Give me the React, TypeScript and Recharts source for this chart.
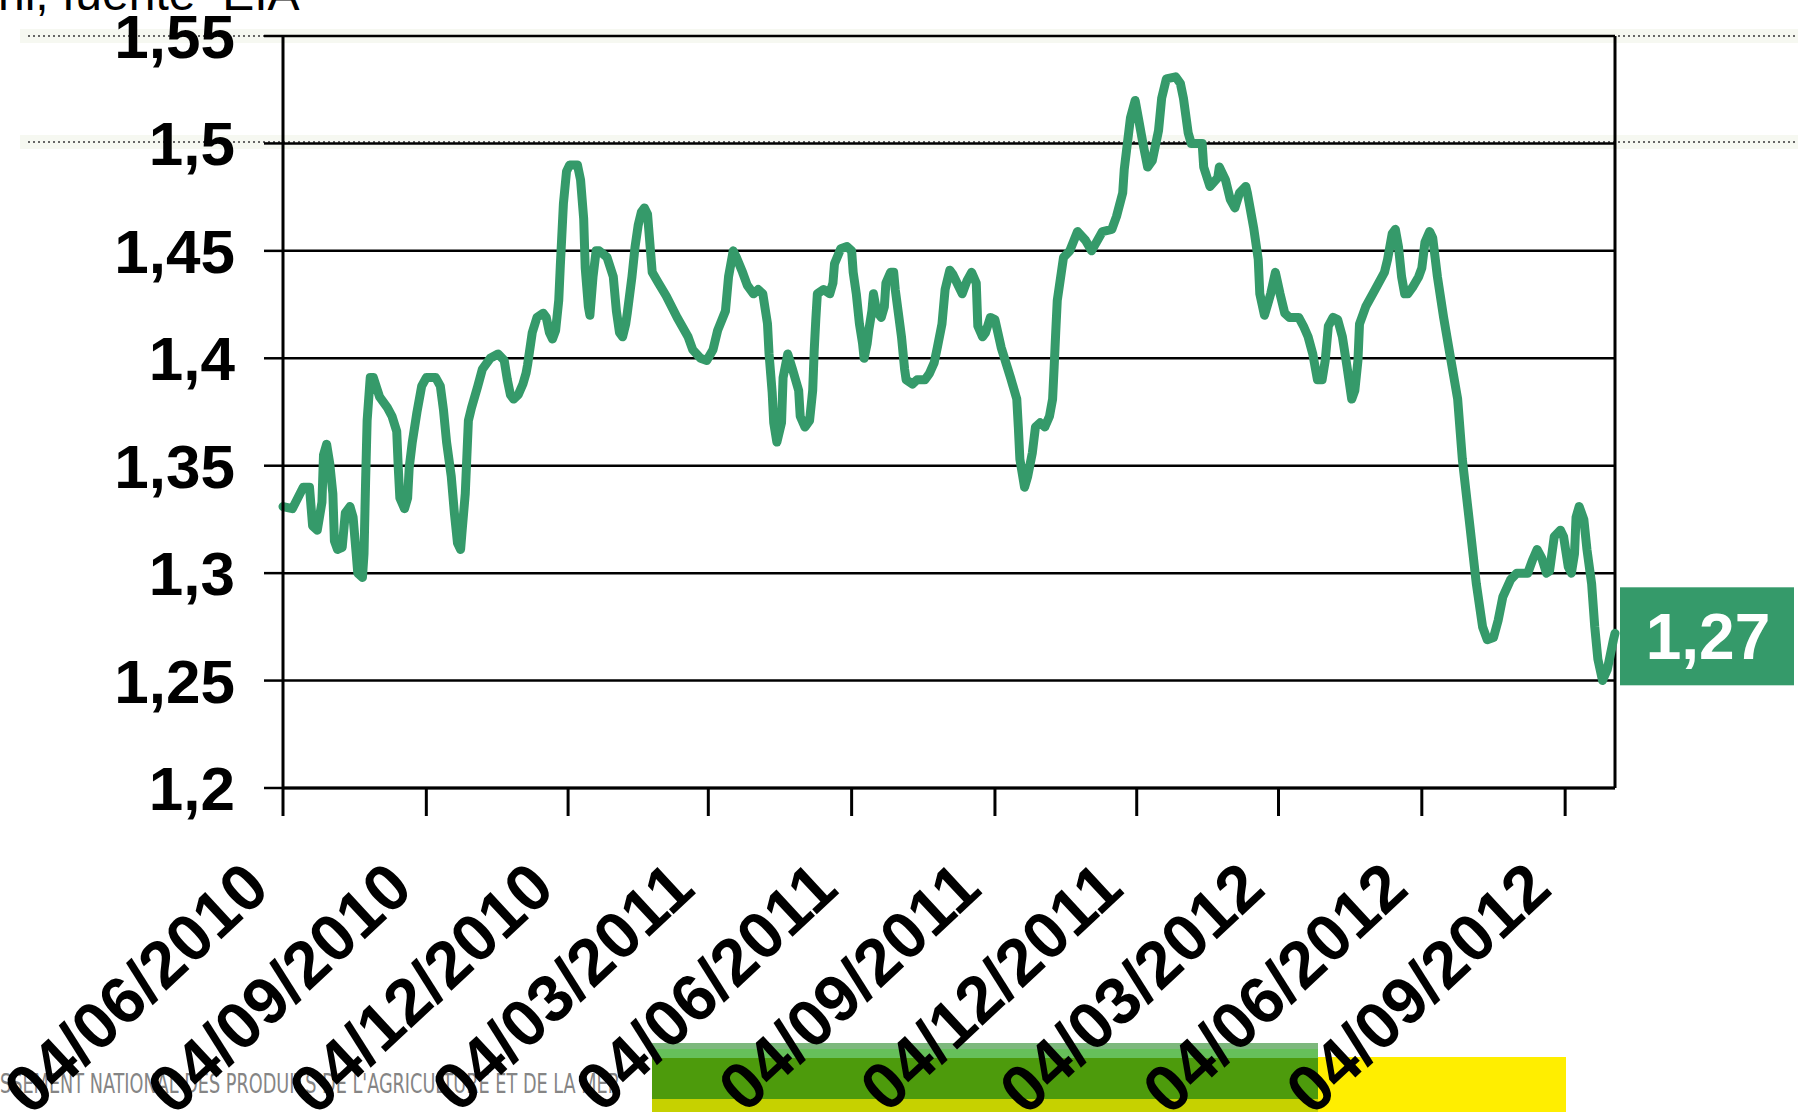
import { LineChart, Line, XAxis, YAxis, CartesianGrid, ReferenceLine } from "recharts";

// days since 04/06/2010
const dayOffsets = [
  0, 6, 13, 17, 19, 22, 25, 26, 28, 30, 32, 33, 35, 38, 40, 43, 45, 47, 48, 51, 52, 53, 54, 56, 58, 62, 67, 70, 73, 74,
  75, 78, 80, 81, 83, 86, 89, 92, 98, 101, 103, 105, 108, 110, 112, 114, 115, 117, 118, 119, 121, 125, 128, 133, 138,
  142, 144, 146, 148, 151, 154, 156, 157, 160, 163, 167, 169, 171, 173, 175, 177, 178, 180, 182, 184, 189, 191, 193,
  194, 196, 197, 199, 201, 203, 208, 212, 214, 216, 218, 220, 221, 224, 226, 228, 230, 232, 234, 236, 237, 241, 246,
  253, 260, 263, 268, 272, 276, 279, 284, 286, 289, 291, 295, 298, 302, 305, 308, 311, 312, 314, 315, 317, 320, 321,
  324, 327, 331, 332, 335, 338, 340, 341, 342, 343, 347, 351, 353, 354, 358, 362, 365, 366, 368, 370, 372, 373, 375,
  376, 378, 379, 381, 384, 386, 387, 390, 392, 393, 395, 397, 399, 400, 404, 407, 412, 415, 418, 420, 423, 425, 426,
  428, 430, 436, 439, 442, 445, 446, 449, 451, 454, 457, 461, 467, 471, 472, 473, 476, 478, 481, 483, 486, 489, 492,
  494, 495, 496, 497, 500, 501, 505, 510, 515, 519, 526, 532, 535, 539, 540, 544, 547, 549, 552, 555, 558, 562, 564,
  567, 573, 576, 578, 581, 583, 590, 591, 595, 600, 601, 605, 608, 611, 614, 618, 619, 623, 626, 627, 630, 634, 637,
  640, 643, 646, 652, 655, 658, 661, 664, 667, 669, 671, 674, 677, 680, 683, 686, 688, 690, 691, 695, 701, 707, 709,
  712, 714, 716, 718, 720, 722, 725, 729, 731, 733, 736, 738, 741, 745, 749, 754, 757, 762, 766, 770, 773, 777, 780,
  783, 788, 792, 799, 802, 805, 808, 811, 813, 816, 820, 822, 825, 827, 829, 830, 832, 835, 837, 840, 842, 844, 847,
  850, 854, 855,
];

const prices = [
  1.331, 1.33, 1.34, 1.34, 1.322, 1.32, 1.333, 1.355, 1.36, 1.351, 1.337, 1.315, 1.311, 1.312, 1.328, 1.331, 1.326,
  1.309, 1.3, 1.298, 1.309, 1.342, 1.371, 1.391, 1.391, 1.382, 1.377, 1.373, 1.366, 1.349, 1.335, 1.33, 1.335, 1.349,
  1.361, 1.375, 1.387, 1.391, 1.391, 1.387, 1.376, 1.361, 1.345, 1.328, 1.314, 1.311, 1.32, 1.337, 1.354, 1.371, 1.377,
  1.387, 1.395, 1.4, 1.402, 1.399, 1.39, 1.383, 1.381, 1.383, 1.388, 1.393, 1.397, 1.412, 1.419, 1.421, 1.419, 1.412,
  1.409, 1.413, 1.427, 1.443, 1.472, 1.487, 1.49, 1.49, 1.483, 1.465, 1.442, 1.424, 1.42, 1.438, 1.45, 1.45, 1.447,
  1.438, 1.422, 1.412, 1.41, 1.416, 1.421, 1.438, 1.452, 1.462, 1.468, 1.47, 1.467, 1.449, 1.44, 1.435, 1.429, 1.419,
  1.41, 1.404, 1.4, 1.399, 1.404, 1.413, 1.422, 1.438, 1.45, 1.447, 1.44, 1.434, 1.43, 1.432, 1.43, 1.416, 1.402, 1.384,
  1.37, 1.361, 1.37, 1.391, 1.402, 1.395, 1.385, 1.373, 1.368, 1.371, 1.385, 1.404, 1.418, 1.43, 1.432, 1.43, 1.435,
  1.444, 1.451, 1.452, 1.45, 1.44, 1.43, 1.416, 1.407, 1.4, 1.407, 1.413, 1.422, 1.43, 1.422, 1.419, 1.424, 1.435, 1.44,
  1.44, 1.432, 1.421, 1.41, 1.395, 1.39, 1.388, 1.39, 1.39, 1.393, 1.398, 1.405, 1.416, 1.432, 1.435, 1.441, 1.439,
  1.43, 1.436, 1.44, 1.435, 1.415, 1.41, 1.412, 1.419, 1.418, 1.405, 1.391, 1.381, 1.368, 1.353, 1.34, 1.345, 1.356,
  1.368, 1.37, 1.368, 1.373, 1.381, 1.396, 1.412, 1.427, 1.442, 1.447, 1.45, 1.459, 1.455, 1.45, 1.459, 1.46, 1.466,
  1.477, 1.488, 1.512, 1.52, 1.512, 1.5, 1.489, 1.492, 1.506, 1.521, 1.53, 1.531, 1.528, 1.521, 1.505, 1.5, 1.5, 1.489,
  1.48, 1.484, 1.489, 1.483, 1.474, 1.47, 1.477, 1.48, 1.477, 1.461, 1.446, 1.43, 1.42, 1.43, 1.44, 1.43, 1.421, 1.419,
  1.419, 1.415, 1.41, 1.402, 1.39, 1.39, 1.399, 1.415, 1.419, 1.418, 1.41, 1.396, 1.381, 1.385, 1.399, 1.416, 1.424,
  1.432, 1.44, 1.446, 1.458, 1.46, 1.452, 1.438, 1.43, 1.43, 1.433, 1.438, 1.442, 1.454, 1.459, 1.456, 1.438, 1.419,
  1.402, 1.381, 1.353, 1.321, 1.295, 1.275, 1.269, 1.27, 1.278, 1.289, 1.297, 1.3, 1.3, 1.306, 1.311, 1.307, 1.3, 1.301,
  1.317, 1.32, 1.317, 1.303, 1.3, 1.309, 1.326, 1.331, 1.325, 1.311, 1.295, 1.275, 1.26, 1.25, 1.255, 1.269, 1.272,
];

const tickDays = [0, 92, 183, 273, 365, 457, 548, 639, 731, 823];
const tickLabels = [
  "04/06/2010", "04/09/2010", "04/12/2010", "04/03/2011", "04/06/2011",
  "04/09/2011", "04/12/2011", "04/03/2012", "04/06/2012", "04/09/2012",
];
const yTicks = [1.2, 1.25, 1.3, 1.35, 1.4, 1.45, 1.5, 1.55];
const lastDay = 855;

const data = dayOffsets.map((d, i) => ({ day: d, price: prices[i] }));

const FONT = "'Liberation Sans', Arial, Helvetica, sans-serif";
const GREEN = "#359a6a";

const comma = (v: number) => String(v).replace(".", ",");

function DateTick(props: any) {
  const { x, y, payload } = props;
  const i = tickDays.indexOf(payload.value);
  return (
    <text
      x={0}
      y={0}
      transform={`translate(${x - 11},${y + 74}) rotate(-43)`}
      textAnchor="end"
      fontFamily={FONT}
      fontWeight="bold"
      fontSize={66}
      fill="#000"
    >
      {tickLabels[i]}
    </text>
  );
}

function LastTag(props: any) {
  const { cx, cy, index, value } = props;
  if (index !== data.length - 1) return <g key={"d" + index} />;
  const v = Array.isArray(value) ? value[1] : value;
  return (
    <g key="last">
      <rect x={cx + 5} y={cy - 46} width={174} height={98} fill={GREEN} />
      <text
        x={cx + 93}
        y={cy + 3}
        dy="0.36em"
        textAnchor="middle"
        fontFamily={FONT}
        fontWeight="bold"
        fontSize={64}
        fill="#fff"
      >
        {v.toFixed(2).replace(".", ",")}
      </text>
    </g>
  );
}

function Backdrop() {
  return (
    <svg width={1798} height={1112} style={{ position: "absolute", left: 0, top: 0 }}>
      <text x={-2} y={10} fontFamily={FONT} fontSize={48} fill="#000" style={{ whiteSpace: "pre" }}>
        nl, fuente  EIA
      </text>
      {[36, 142].map((y) => (
        <g key={y}>
          <rect x={20} y={y - 7} width={1778} height={14} fill="#f6f8f1" />
          <line x1={28} x2={1798} y1={y} y2={y} stroke="#666" strokeWidth={2} strokeDasharray="2 3" />
        </g>
      ))}
      <text
        x={0}
        y={1093}
        fontFamily="'Liberation Sans Narrow', 'DejaVu Sans Condensed', sans-serif"
        fontSize={26}
        fill="#858585"
        textLength={620}
        lengthAdjust="spacingAndGlyphs"
      >
        SSEMENT NATIONAL DES PRODUITS DE L'AGRICULTURE ET DE LA MER
      </text>
      <rect x={652} y={1043} width={666} height={6} fill="#7db87d" />
      <rect x={652} y={1049} width={666} height={9} fill="#66c05a" />
      <rect x={652} y={1058} width={666} height={41} fill="#4d9b0c" />
      <rect x={652} y={1099} width={666} height={13} fill="#c6d100" />
      <rect x={1318} y={1057} width={248} height={55} fill="#ffee00" />
    </svg>
  );
}

export default function App() {
  return (
    <div style={{ position: "absolute", left: 0, top: 0, width: 1798, height: 1112, overflow: "hidden", background: "#fff" }}>
      <Backdrop />
      <div style={{ position: "absolute", left: 0, top: 0 }}>
        <LineChart width={1798} height={1112} data={data} margin={{ top: 36, right: 183, bottom: 0, left: 0 }}>
          <CartesianGrid vertical={false} stroke="#000" strokeWidth={2.5} />
          <XAxis
            dataKey="day"
            type="number"
            domain={[0, lastDay]}
            ticks={tickDays}
            interval={0}
            height={324}
            tickSize={28}
            tick={<DateTick />}
            axisLine={{ stroke: "#000", strokeWidth: 3 }}
            tickLine={{ stroke: "#000", strokeWidth: 3 }}
          />
          <YAxis
            type="number"
            domain={[1.2, 1.55]}
            ticks={yTicks}
            interval={0}
            width={283}
            tickSize={19}
            tickMargin={29}
            tickFormatter={comma}
            tick={{ fill: "#000", fontSize: 62, fontWeight: "bold", fontFamily: FONT }}
            axisLine={{ stroke: "#000", strokeWidth: 3 }}
            tickLine={{ stroke: "#000", strokeWidth: 2.5 }}
          />
          <ReferenceLine x={lastDay} stroke="#000" strokeWidth={3} />
          <Line
            type="linear"
            dataKey="price"
            stroke={GREEN}
            strokeWidth={9}
            strokeLinejoin="round"
            strokeLinecap="round"
            dot={(p: any) => <LastTag {...p} key={"k" + p.index} />}
            activeDot={false}
            isAnimationActive={false}
          />
        </LineChart>
      </div>
    </div>
  );
}
